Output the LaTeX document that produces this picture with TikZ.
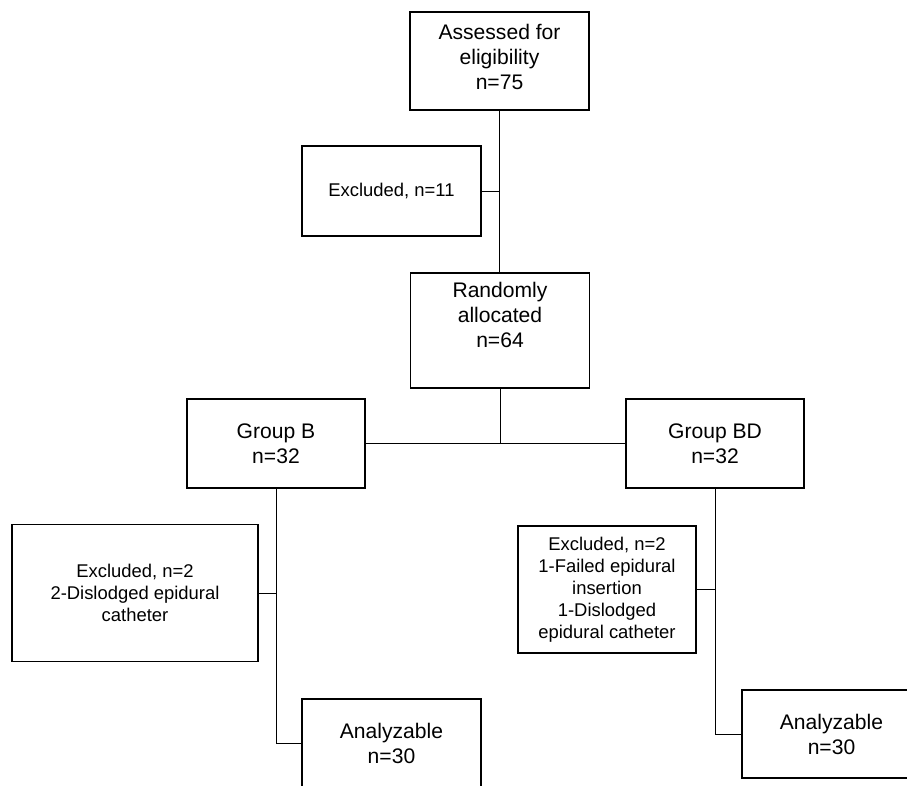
\documentclass[tikz,border=0pt]{standalone}
\usepackage{fontspec}
\setmainfont{Liberation Sans}
\tikzset{
  flowbox/.style={draw, line width=0.8pt, inner sep=0pt, outer sep=0pt, align=center,
    font=\fontsize{15}{17.7}\selectfont},
  smallbox/.style={flowbox, font=\fontsize{13.1}{15.6}\selectfont},
  link/.style={line width=0.7pt}
}
\begin{document}
\begin{tikzpicture}[x=0.025cm,y=-0.025cm]
  \useasboundingbox (0,0) rectangle (907,785);
  \clip (0,0) rectangle (907,785);
  % enrolment
  \node[flowbox,minimum width=4.475cm,minimum height=2.45cm,text depth=0.2cm] (assess) at (499.5,61) {Assessed for\\eligibility\\n=75};
  \node[smallbox,minimum width=4.475cm,minimum height=2.25cm] (excl) at (391.5,191) {Excluded, n=11};
  \node[flowbox,minimum width=4.475cm,minimum height=2.875cm,text depth=0.775cm] (rand) at (500,330.5) {Randomly\\allocated\\n=64};
  % allocation
  \node[flowbox,minimum width=4.45cm,minimum height=2.225cm] (grpB) at (276,443.5) {Group B\\n=32};
  \node[flowbox,minimum width=4.45cm,minimum height=2.225cm] (grpBD) at (715,443.5) {Group BD\\n=32};
  \node[smallbox,minimum width=6.15cm,minimum height=3.425cm] (exclB) at (135,593) {Excluded, n=2\\2-Dislodged epidural\\catheter};
  \node[smallbox,minimum width=4.45cm,minimum height=3.175cm] (exclBD) at (607,589.5) {Excluded, n=2\\1-Failed epidural\\insertion\\1-Dislodged\\epidural catheter};
  % analysis
  \node[flowbox,minimum width=4.475cm,minimum height=2.225cm] (anaB) at (391.5,743.5) {Analyzable\\n=30};
  \node[flowbox,minimum width=4.475cm,minimum height=2.2cm] (anaBD) at (831.5,734) {Analyzable\\n=30};
  % connectors
  \draw[link] (assess.south) -- (assess.south |- rand.north);
  \draw[link] (excl.east) -- (excl.east -| assess.south);
  \draw[link] (rand.south) -- (rand.south |- grpB.east);
  \draw[link] (grpB.east) -- (grpBD.west);
  \draw[link] (grpB.south) |- (anaB.west);
  \draw[link] (exclB.east) -- (exclB.east -| grpB.south);
  \draw[link] (grpBD.south) |- (anaBD.west);
  \draw[link] (exclBD.east) -- (exclBD.east -| grpBD.south);
\end{tikzpicture}
\end{document}
